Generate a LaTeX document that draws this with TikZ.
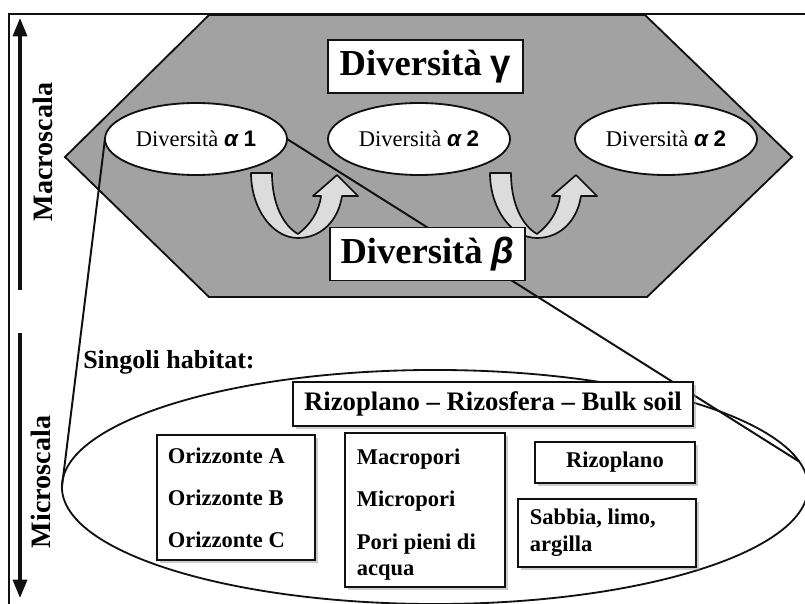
\documentclass[tikz,border=0pt]{standalone}
\usepackage{fontspec}
\setmainfont{Liberation Serif}
\newfontfamily\greekfont{Liberation Sans}
\usepackage{xcolor}
\usepackage{tikz}
\usetikzlibrary{positioning,calc,arrows.meta,backgrounds,shapes.geometric,shadows}
\definecolor{HGray}{HTML}{A2A2A2}
\definecolor{HLight}{HTML}{DCDCDC}
\definecolor{HInk}{HTML}{111111}
\definecolor{HShade}{HTML}{9A9A9A}

\newcommand{\ialpha}{{\greekfont\bfseries\itshape α}}
\newcommand{\ibeta}{{\greekfont\bfseries\itshape β}}
\newcommand{\igamma}{{\greekfont\bfseries γ}}
\newcommand{\inum}[1]{{\greekfont\bfseries #1}}

\tikzset{
  alphaell/.style={ellipse, draw=HInk, line width=1.3pt, fill=white, minimum width=4.55cm,
    minimum height=1.8cm, inner sep=0pt, outer sep=0pt, font=\fontsize{16}{19}\selectfont},
  titlebox/.style={draw=HInk, line width=0.8pt, fill=white, minimum width=4.875cm,
    minimum height=1.325cm, font=\fontsize{26}{30}\selectfont\bfseries},
  habbox/.style={draw=HInk, line width=0.8pt, fill=white, inner sep=0pt,
    drop shadow={shadow xshift=2pt, shadow yshift=-2pt, fill=HShade, opacity=0.5},
    font=\fontsize{16}{19}\selectfont\bfseries},
  scalearrow/.style={draw=HInk, line width=2.2pt, -{Triangle[length=13pt,width=10pt]}},
  scalelabel/.style={rotate=90, font=\fontsize{20}{24}\selectfont\bfseries},
  uarrow/.style={draw=HInk, line width=1.2pt, fill=HLight, line join=round},
  link/.style={draw=HInk, line width=1.4pt},
}

\begin{document}
\begin{tikzpicture}[x=0.025cm, y=-0.025cm, every node/.style={align=center}]
\useasboundingbox (0,0) rectangle (805,604);
% frame
\draw[HInk, line width=1.4pt] (805,14) -- (9,14) -- (9,604);
% macro level
\begin{pgfonlayer}{background}
\filldraw[fill=HGray, draw=HInk, line width=1.3pt]
  (65,157) -- (209,15) -- (645,15) -- (792,157) -- (647,297) -- (209,297) -- cycle;
\end{pgfonlayer}
\node[titlebox] (gamma) at (425.5,66.5) {Diversità \igamma};
\node[alphaell] (a1) at (196,139) {Diversità \ialpha\ \inum{1}};
\node[alphaell] (a2) at (419,139) {Diversità \ialpha\ \inum{2}};
\node[alphaell] (a3) at (666,139) {Diversità \ialpha\ \inum{2}};
% turnover arrows
\foreach \dx in {0,239}{
  \begin{scope}[shift={(\dx,0)}]
  \filldraw[uarrow] (251,173) -- (272,173) .. controls (272,205) and (284,226) .. (298,234)
    .. controls (310,225) and (319,212) .. (321,196) -- (313,196) -- (337,175) -- (358,196)
    -- (342,196) .. controls (338,222) and (320,238) .. (298,238)
    .. controls (272,238) and (251,208) .. (251,173) -- cycle;
  \end{scope}
}
\node[titlebox] (beta) at (427.5,254) {Diversità \ibeta};
% scale arrows
\coordinate (macrolow) at (20,290);
\coordinate (macrohigh) at (20,18);
\coordinate (microhigh) at (20,333);
\coordinate (microlow) at (20,598);
\draw[scalearrow] (macrolow) -- (macrohigh);
\draw[scalearrow] (microhigh) -- (microlow);
\node[scalelabel] (macrolab) at (43,152) {Macroscala};
\node[scalelabel] (microlab) at (41,482) {Microscala};
% micro level
\node[ellipse, draw=HInk, line width=1.3pt, minimum width=18.65cm, minimum height=5.85cm,
  inner sep=0pt, outer sep=0pt] (micro) at (435,487) {};
\begin{pgfonlayer}{background}
\draw[link] (a1.west) -- (micro.west);
\draw[link] (a1.east) -- (micro.4);
\end{pgfonlayer}
\node[anchor=west, inner sep=0pt, font=\fontsize{18.5}{22}\selectfont\bfseries] (habitat)
  at (83,362) {Singoli habitat:};
\node[habbox, minimum width=10cm, minimum height=1.1cm, font=\fontsize{19}{22}\selectfont\bfseries]
  (bulk) at (493,404) {Rizoplano -- Rizosfera -- Bulk soil};
\node[habbox, minimum width=3.95cm, minimum height=3.125cm, text width=3.4cm, align=flush left]
  (oriz) at (236,497.5) {Orizzonte A\\[11pt]Orizzonte B\\[11pt]Orizzonte C};
\node[habbox, minimum width=4cm, minimum height=3.85cm, text width=3.4cm, align=flush left]
  (pori) at (425,510) {\rule{0pt}{18pt}Macropori\\[11pt]Micropori\\[11pt]Pori pieni di\\acqua};
\node[habbox, minimum width=4cm, minimum height=1.025cm] (rizo) at (615,462.5) {Rizoplano};
\node[habbox, minimum width=4.45cm, minimum height=1.7cm, text width=3.85cm, align=flush left]
  (sabbia) at (607,533) {Sabbia, limo,\\argilla};
\end{tikzpicture}
\end{document}
